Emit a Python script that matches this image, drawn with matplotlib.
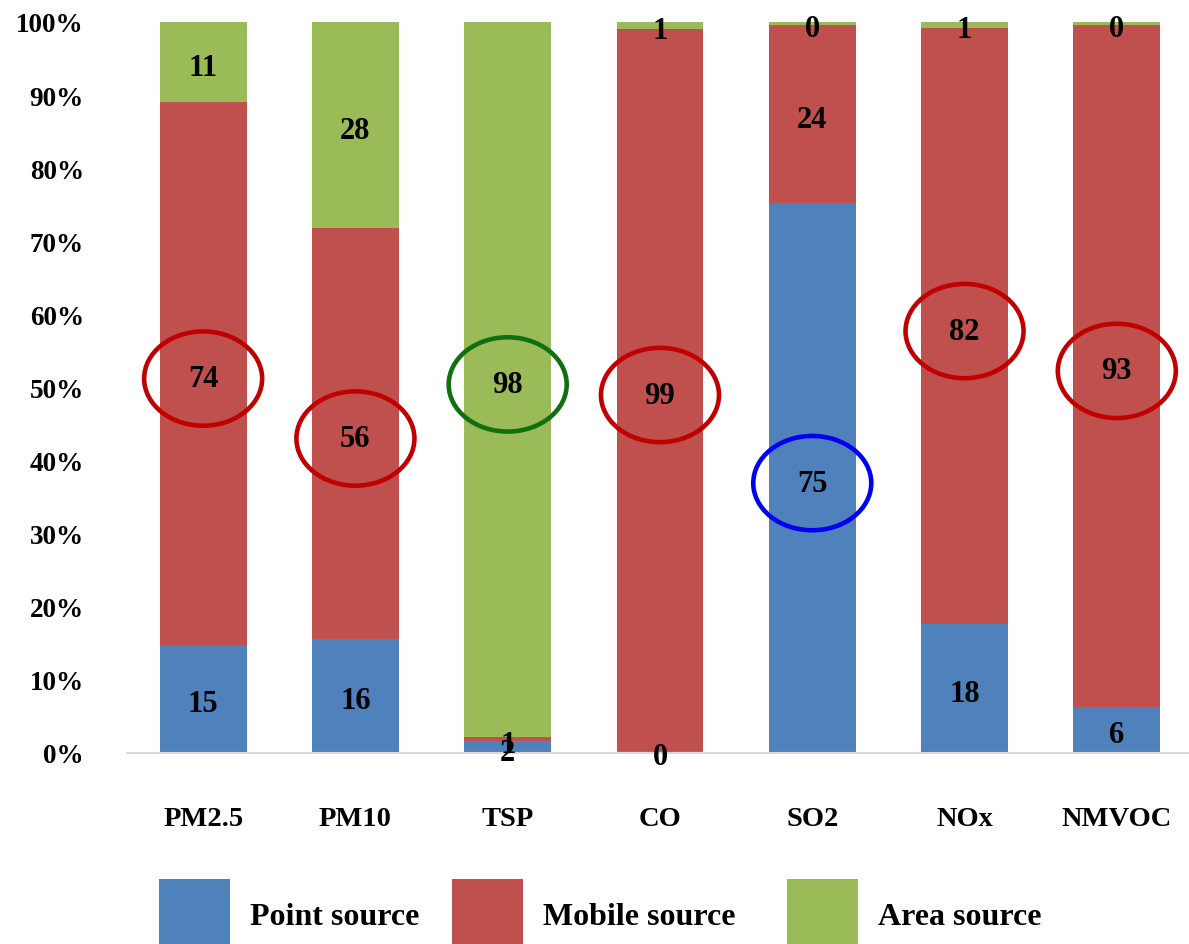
import matplotlib
matplotlib.use("Agg")
import matplotlib.pyplot as plt
from matplotlib.patches import Ellipse
import numpy as np

plt.rcParams["font.family"] = ["Liberation Serif", "DejaVu Serif"]
plt.rcParams["font.weight"] = "bold"

# Share of each pollutant's emissions by source type (%)
pollutants = ["PM2.5", "PM10", "TSP", "CO", "SO2", "NOx", "NMVOC"]
point_source = [14.8, 15.6, 1.6, 0.3, 75.2, 17.6, 6.3]
mobile_source = [74.2, 56.2, 0.6, 98.7, 24.4, 81.6, 93.3]
area_source = [11.0, 28.2, 97.8, 1.0, 0.4, 0.8, 0.4]
series_names = ["Point source", "Mobile source", "Area source"]

# Dominant source of each pollutant, ringed on the chart
dominant_source = ["Mobile source", "Mobile source", "Area source", "Mobile source",
                   "Point source", "Mobile source", "Mobile source"]

bar_colors = {"Point source": "#4F81BD", "Mobile source": "#C0504D", "Area source": "#9BBB59"}
ring_colors = {"Point source": "#0000F0", "Mobile source": "#C00000", "Area source": "#107010"}

fig = plt.figure(figsize=(11.89, 9.45), dpi=100)
ax = fig.add_axes([127 / 1189, 191 / 945, 1062 / 1189, 731 / 945])

x = np.arange(len(pollutants))
width = 0.571
label_drop = 0.68  # value labels sit slightly below the segment middle
series = [point_source, mobile_source, area_source]
bottom = np.zeros(len(pollutants))
centers = {}
handles = []
for name, vals in zip(series_names, series):
    vals = np.asarray(vals, dtype=float)
    bars = ax.bar(x, vals, width, bottom=bottom, color=bar_colors[name],
                  label=name, linewidth=0)
    handles.append(bars)
    ax.bar_label(bars, labels=[f"{v:.0f}" for v in vals], label_type="center",
                 padding=-3.6, fontsize=22, fontweight="bold", color="black")
    centers[name] = bottom + vals / 2
    bottom = bottom + vals

for i, src in enumerate(dominant_source):
    ax.add_patch(Ellipse((x[i], centers[src][i] - label_drop), width=0.775, height=12.9,
                         fill=False, edgecolor=ring_colors[src], linewidth=3.3,
                         zorder=5, clip_on=False))

ax.set_xlim(-0.5, 6.474)
ax.set_ylim(0, 100)
ax.set_yticks(np.arange(0, 101, 10))
ax.set_yticklabels([f"{t}%" for t in range(0, 101, 10)], fontsize=19.5, fontweight="bold")
ax.set_xticks(x)
ax.set_xticklabels(pollutants, fontsize=20.5, fontweight="bold")
ax.tick_params(axis="y", length=0, pad=31)
ax.tick_params(axis="x", length=0, pad=38)

for side in ["left", "right", "top"]:
    ax.spines[side].set_visible(False)
ax.spines["bottom"].set_color("#D9D9D9")
ax.spines["bottom"].set_linewidth(1.5)

# One legend entry per source, spaced along the bottom
legend_left = [159, 452, 787]
for h, name, left in zip(handles, series_names, legend_left):
    fig.legend([h], [name], loc="center left", bbox_to_anchor=(left / 1189, 29 / 945),
               frameon=False, prop={"weight": "bold", "size": 23},
               handlelength=2.22, handleheight=3.09, handletextpad=0.63,
               borderpad=0, borderaxespad=0)

fig.savefig("out.png", dpi=100)
